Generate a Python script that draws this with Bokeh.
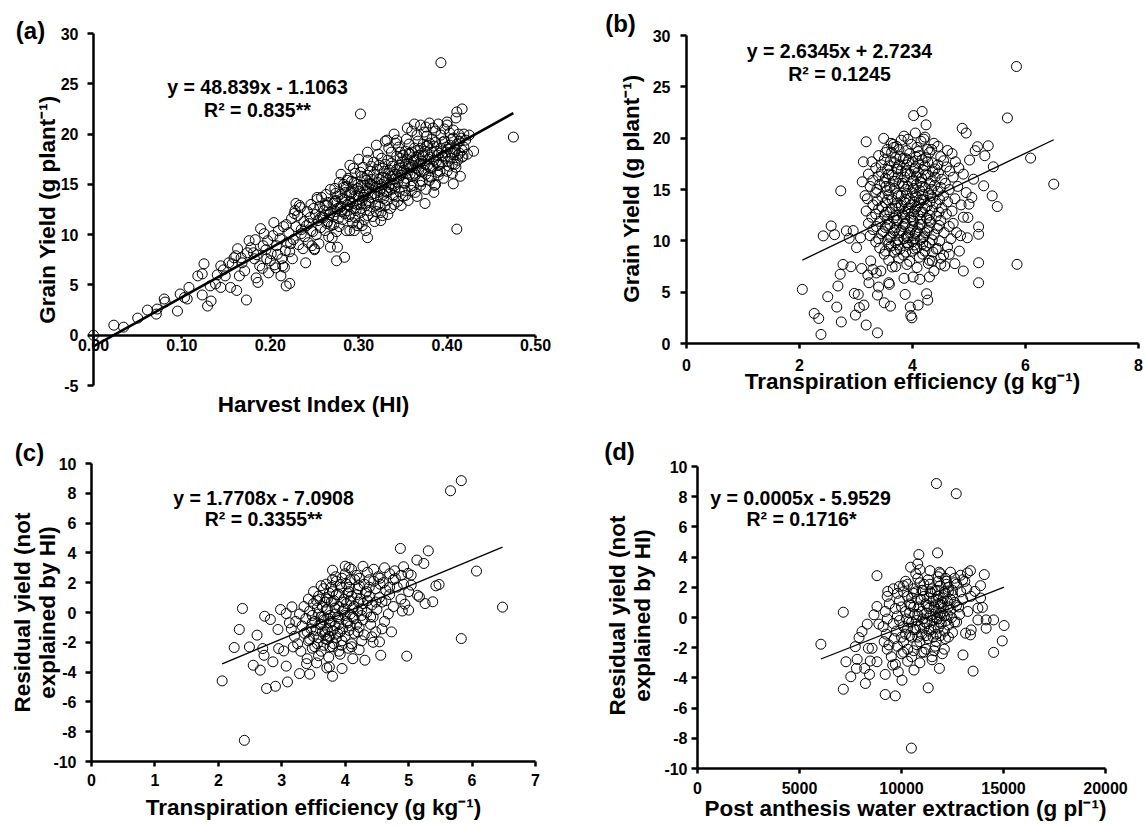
import math
from bokeh.plotting import figure
from bokeh.models import LinearAxis, FixedTicker, NumeralTickFormatter, Range1d, Label
from bokeh.layouts import column, row
from bokeh.embed import file_html
from bokeh.resources import INLINE

FONT = "Liberation Sans"

# ---------------- data ----------------
# (a) Harvest index vs grain yield
a_xticks = [0, 0.1, 0.2, 0.3, 0.4, 0.5]
a_yticks = [-5, 0, 5, 10, 15, 20, 25, 30]
a_fit = (48.839, -1.1063)
a_outer = [(0.000,0.0),(0.023,1.0),(0.034,0.8),(0.050,1.7),(0.061,2.5),(0.071,2.1),(0.072,2.6),(0.080,3.6),
 (0.081,3.3),(0.095,2.4),(0.098,4.1),(0.103,3.75),(0.106,3.6),(0.108,4.75),(0.118,5.9),(0.123,6.1),(0.125,7.1),
 (0.123,4.0),(0.129,2.9),(0.133,3.4),(0.132,4.9),(0.138,5.1),(0.144,4.75),(0.144,6.9),(0.149,5.9),(0.153,7.2),
 (0.155,4.75),(0.159,7.7),(0.162,4.45),(0.163,8.6),(0.165,5.9),(0.167,7.7),(0.173,3.5),(0.174,8.2),(0.176,9.4),
 (0.182,7.6),(0.184,5.7),(0.186,5.25),(0.189,10.6),(0.193,10.1),(0.191,6.65),(0.197,9.4),(0.200,7.4),(0.204,11.2),
 (0.208,8.05),(0.212,5.9),(0.216,6.75),(0.218,4.9),(0.222,5.15),(0.223,9.1),(0.227,12.1),(0.229,13.1),(0.235,10.1),
 (0.240,7.2),(0.246,10.4),(0.250,8.6),(0.253,13.7),(0.257,11.7),(0.268,8.75),(0.274,13.4),(0.275,7.4),(0.276,8.75),
 (0.284,7.75),(0.287,15.4),(0.295,10.4),(0.302,22.0),(0.308,10.4),(0.310,9.7),(0.310,17.4),(0.325,11.4),(0.332,19.4),
 (0.343,19.4),(0.363,21.0),(0.375,13.1),(0.376,20.7),(0.385,14.2),(0.387,15.0),(0.393,27.1),(0.400,21.2),(0.406,17.0),
 (0.407,15.05),(0.411,10.55),(0.411,22.2),(0.417,22.5),(0.417,17.7),(0.430,18.3),(0.475,19.7),
 (0.140,6.0),(0.147,6.5),(0.157,7.1),(0.161,7.9),(0.168,7.2),(0.171,6.4),(0.178,8.7),(0.181,8.2),(0.185,8.0),
 (0.188,6.9),(0.192,8.9),(0.195,8.5),(0.198,6.2),(0.183,9.5),(0.196,7.6)]
a_core = [(0.201,8.1),(0.203,9.9),(0.205,7.0),(0.207,8.9),(0.209,10.4),(0.206,6.7),
 (0.211,9.6),(0.213,7.6),(0.215,10.8),(0.217,8.4),(0.219,9.2),(0.214,6.9),(0.218,11.0),
 (0.221,10.2),(0.222,8.3),(0.224,11.6),(0.226,9.5),(0.228,12.4),(0.225,7.6),(0.229,10.8),
 (0.231,11.9),(0.232,9.0),(0.234,12.7),(0.235,10.5),(0.237,8.6),(0.238,11.3),(0.233,12.9),(0.239,9.8),
 (0.241,10.9),(0.242,12.3),(0.243,9.2),(0.245,11.7),(0.246,13.0),(0.247,8.9),(0.248,10.3),(0.249,12.6),(0.244,11.1),
 (0.251,12.0),(0.252,10.0),(0.253,13.5),(0.254,11.4),(0.255,9.1),(0.256,12.8),(0.257,10.7),(0.258,13.7),(0.259,11.8),(0.250,8.5),
 (0.261,12.4),(0.262,10.4),(0.263,14.0),(0.264,11.1),(0.265,13.2),(0.266,9.8),(0.267,12.0),(0.268,14.5),(0.269,10.9),(0.260,11.7),(0.264,12.9),
 (0.271,13.1),(0.272,11.0),(0.273,14.6),(0.274,12.3),(0.275,10.3),(0.276,13.8),(0.277,11.6),(0.278,15.2),(0.279,12.7),(0.270,9.7),(0.274,14.1),(0.278,10.8),
 (0.281,13.6),(0.282,11.5),(0.283,15.0),(0.284,12.1),(0.285,14.2),(0.286,10.4),(0.287,13.0),(0.288,15.6),(0.289,11.8),(0.280,12.8),(0.283,14.7),(0.287,12.4),(0.289,14.0),
 (0.291,13.3),(0.292,15.3),(0.293,11.2),(0.294,14.5),(0.295,12.6),(0.296,16.1),(0.297,13.9),(0.298,10.9),(0.299,15.0),(0.290,12.0),(0.292,14.1),(0.294,16.6),(0.296,11.7),(0.298,13.0),
 (0.301,14.3),(0.302,12.2),(0.303,15.8),(0.304,13.4),(0.305,16.7),(0.306,11.5),(0.307,14.9),(0.308,12.9),(0.309,15.4),(0.300,13.8),(0.302,16.2),(0.304,10.9),(0.306,14.0),(0.308,13.1),(0.303,12.6),
 (0.311,14.6),(0.312,12.4),(0.313,16.3),(0.314,13.7),(0.315,15.5),(0.316,11.8),(0.317,17.2),(0.318,14.1),(0.319,12.9),(0.310,15.9),(0.312,13.2),(0.314,16.8),(0.316,14.9),(0.318,11.3),(0.313,15.0),
 (0.321,15.2),(0.322,13.0),(0.323,16.9),(0.324,14.3),(0.325,12.2),(0.326,17.6),(0.327,15.7),(0.328,13.6),(0.329,16.3),(0.320,14.8),(0.322,18.0),(0.324,12.8),(0.326,15.0),(0.328,14.0),(0.321,16.5),(0.327,11.9),
 (0.331,15.6),(0.332,13.4),(0.333,17.4),(0.334,14.7),(0.335,16.4),(0.336,12.6),(0.337,18.2),(0.338,15.1),(0.339,13.9),(0.330,17.0),(0.332,14.2),(0.334,18.6),(0.336,15.8),(0.338,16.8),(0.333,12.0),(0.337,14.5),
 (0.341,16.0),(0.342,13.8),(0.343,17.8),(0.344,15.2),(0.345,18.7),(0.346,14.3),(0.347,16.6),(0.348,12.9),(0.349,17.2),(0.340,15.5),(0.342,19.1),(0.344,13.3),(0.346,16.9),(0.348,15.9),(0.341,14.6),(0.347,18.2),
 (0.351,16.4),(0.352,14.4),(0.353,18.3),(0.354,15.6),(0.355,17.5),(0.356,13.4),(0.357,19.0),(0.358,16.0),(0.359,14.8),(0.350,17.9),(0.352,15.1),(0.354,19.5),(0.356,16.8),(0.358,18.0),(0.353,13.9),(0.357,17.0),
 (0.361,16.9),(0.362,14.9),(0.363,18.6),(0.364,15.9),(0.365,17.7),(0.366,13.8),(0.367,19.3),(0.368,16.4),(0.369,15.3),(0.360,18.2),(0.362,17.3),(0.364,14.2),(0.366,19.9),(0.368,17.9),(0.363,16.1),
 (0.371,17.3),(0.372,15.3),(0.373,19.0),(0.374,16.4),(0.375,18.3),(0.376,14.5),(0.377,19.8),(0.378,16.9),(0.379,15.8),(0.370,18.6),(0.372,17.8),(0.374,20.2),(0.376,16.0),(0.378,18.9),
 (0.381,17.7),(0.382,15.7),(0.383,19.5),(0.384,16.8),(0.385,18.8),(0.386,14.9),(0.387,20.3),(0.388,17.3),(0.389,16.2),(0.380,19.1),(0.384,20.6),(0.388,18.3),
 (0.391,18.1),(0.392,16.3),(0.393,19.9),(0.394,17.2),(0.395,19.2),(0.396,15.6),(0.397,20.5),(0.398,17.8),(0.399,18.7),(0.390,16.9),
 (0.401,18.5),(0.402,16.8),(0.403,20.1),(0.404,17.6),(0.405,19.5),(0.406,16.1),(0.407,20.4),(0.408,18.2),(0.409,17.0),
 (0.411,19.0),(0.412,17.4),(0.413,20.0),(0.414,18.1),(0.416,19.6),(0.418,17.8),(0.419,18.7),
 (0.421,19.4),(0.423,18.0),(0.425,19.9)]
a_dense = [(0.262,12.9),(0.265,11.3),(0.268,12.2),(0.271,11.8),(0.273,13.3),(0.276,12.6),(0.279,14.0),(0.281,12.3),
 (0.284,13.5),(0.286,14.8),(0.288,12.9),(0.291,14.2),(0.293,13.1),(0.295,15.2),(0.297,12.4),(0.299,14.6),(0.301,13.0),
 (0.303,14.9),(0.305,13.7),(0.307,15.6),(0.309,14.3),(0.311,13.4),(0.313,15.1),(0.315,14.0),(0.317,16.0),(0.319,14.7),
 (0.321,13.8),(0.323,15.5),(0.325,14.6),(0.327,16.6),(0.329,15.2),(0.331,14.3),(0.333,16.1),(0.335,15.0),(0.337,17.1),
 (0.339,15.8),(0.341,14.9),(0.343,16.5),(0.345,15.6),(0.347,17.6),(0.349,16.2),(0.351,15.2),(0.353,17.0),(0.355,16.1),
 (0.357,18.1),(0.359,16.7),(0.361,15.8),(0.363,17.4),(0.365,16.6),(0.367,18.4),(0.369,17.1),(0.371,16.3),(0.373,17.9),
 (0.375,17.0),(0.377,18.8),(0.379,17.5),(0.381,16.6),(0.383,18.2),(0.385,17.4),(0.387,19.2),(0.389,17.9),(0.391,17.0),
 (0.393,18.6),(0.395,17.8),(0.397,19.3),(0.399,18.2),(0.401,17.3),(0.403,18.9),(0.405,18.1),(0.407,19.6),(0.409,18.5),
 (0.412,17.9),(0.414,19.3),(0.417,18.4),(0.419,20.0),
 (0.280,16.0),(0.290,16.9),(0.300,17.5),(0.310,18.2),(0.320,18.9),(0.330,19.3),(0.340,20.0),(0.355,20.6),(0.360,20.3),
 (0.370,20.9),(0.380,21.1),(0.390,21.0),(0.400,20.9),(0.410,21.6),
 (0.290,10.4),(0.300,11.1),(0.310,11.9),(0.320,12.3),(0.330,12.9),(0.340,13.0),(0.350,13.8),(0.360,14.4),(0.370,14.9),
 (0.380,15.4),(0.390,15.9),(0.400,16.3),(0.410,16.7),(0.415,15.8)]

# (b) Transpiration efficiency vs grain yield
b_xticks = [0, 2, 4, 6, 8]
b_yticks = [0, 5, 10, 15, 20, 25, 30]
b_fit = (2.6345, 2.7234)
b_outer = [(2.05,5.27),(2.26,2.93),(2.34,2.44),(2.38,0.88),(2.42,10.48),(2.50,4.56),(2.56,11.45),(2.62,10.6),
 (2.66,3.55),(2.68,5.6),(2.72,6.74),(2.73,14.87),(2.74,2.1),(2.77,7.7),(2.83,10.97),(2.88,10.25),(2.91,7.48),
 (2.95,11.0),(2.97,4.88),(2.99,2.77),(3.01,9.34),(3.04,4.78),(3.06,3.5),(3.08,10.3),(3.10,7.3),(3.11,15.75),
 (3.13,17.7),(3.14,3.74),(3.16,14.4),(3.18,1.8),(3.18,19.65),(3.21,6.67),(3.23,5.92),(3.26,8.04),(3.30,7.22),
 (3.36,6.87),(3.38,1.04),(3.38,4.72),(3.40,5.5),(3.44,7.06),(3.49,19.98),(3.50,3.97),(3.58,5.92),(3.61,3.64),
 (3.59,5.76),(3.64,7.45),(3.67,19.1),(3.85,6.35),(3.87,4.78),(3.92,10.3),(3.96,3.55),(3.97,2.73),(3.99,2.5),
 (4.01,6.48),(4.02,22.2),(4.10,3.74),(4.13,6.25),(4.17,22.6),(4.24,21.3),(4.25,4.85),(4.27,4.23),(4.30,6.48),
 (4.35,8.04),(4.38,7.06),(4.45,9.24),(4.50,7.71),(4.57,7.55),(4.65,8.69),(4.75,7.78),(4.78,10.8),(4.83,9.0),
 (4.88,20.96),(4.90,7.06),(4.95,20.5),(4.97,10.3),(4.98,12.27),(5.00,13.57),(5.01,17.87),(5.05,14.22),(5.08,16.0),
 (5.11,18.78),(5.15,19.17),(5.17,7.87),(5.17,5.92),(5.17,11.36),(5.17,10.64),(5.26,15.36),(5.28,18.29),(5.34,19.26),
 (5.41,14.38),(5.43,17.21),(5.50,13.34),(5.68,21.97),(5.84,26.98),(5.85,7.71),(6.09,18.06),(6.50,15.52)]
b_core = [(3.85,20.2),(4.05,20.5),(4.22,20.1),
 (3.62,19.5),(3.80,19.8),(3.98,19.4),(4.15,19.7),(4.38,19.5),
 (3.55,18.9),(3.72,19.2),(3.90,18.8),(4.08,19.1),(4.27,18.9),(4.45,19.2),(4.62,18.8),
 (3.40,18.3),(3.63,18.6),(3.78,18.2),(3.95,18.5),(4.12,18.3),(4.30,18.6),(4.50,18.2),(4.70,18.5),
 (3.28,17.7),(3.50,17.9),(3.68,17.6),(3.84,18.0),(4.00,17.7),(4.17,17.9),(4.35,17.6),(4.55,17.8),(4.76,17.7),
 (3.35,17.1),(3.58,17.3),(3.74,17.0),(3.90,17.4),(4.05,17.1),(4.22,17.3),(4.40,17.0),(4.60,17.2),(4.82,17.1),
 (3.22,16.5),(3.45,16.7),(3.64,16.4),(3.80,16.8),(3.96,16.5),(4.10,16.7),(4.27,16.4),(4.46,16.6),(4.66,16.8),(4.90,16.5),
 (3.30,15.9),(3.52,16.1),(3.70,15.8),(3.86,16.2),(4.02,15.9),(4.16,16.1),(4.33,15.8),(4.52,16.0),(4.72,16.2),
 (3.25,15.3),(3.42,15.5),(3.60,15.2),(3.76,15.6),(3.92,15.3),(4.07,15.5),(4.22,15.2),(4.39,15.4),(4.58,15.6),(4.80,15.3),
 (3.35,14.7),(3.55,14.9),(3.72,14.6),(3.88,15.0),(4.00,14.7),(4.13,14.9),(4.28,14.6),(4.45,14.8),(4.65,15.0),(4.95,14.7),
 (3.20,14.1),(3.46,14.3),(3.64,14.0),(3.80,14.4),(3.95,14.1),(4.08,14.3),(4.20,14.0),(4.36,14.2),(4.55,14.4),(4.75,14.1),
 (3.30,13.5),(3.52,13.7),(3.70,13.4),(3.85,13.8),(3.98,13.5),(4.12,13.7),(4.26,13.4),(4.42,13.6),(4.62,13.8),(4.86,13.5),
 (3.18,12.9),(3.40,13.1),(3.60,12.8),(3.76,13.2),(3.92,12.9),(4.05,13.1),(4.18,12.8),(4.34,13.0),(4.52,13.2),(4.70,12.9),
 (3.28,12.3),(3.50,12.5),(3.67,12.2),(3.82,12.6),(3.97,12.3),(4.10,12.5),(4.25,12.2),(4.42,12.4),(4.60,12.6),(4.90,12.3),
 (3.22,11.7),(3.42,11.9),(3.60,11.6),(3.74,12.0),(3.88,11.7),(4.02,11.9),(4.16,11.6),(4.32,11.8),(4.50,12.0),(4.72,11.7),
 (3.30,11.1),(3.52,11.3),(3.68,11.0),(3.83,11.4),(3.96,11.1),(4.10,11.3),(4.26,11.0),(4.44,11.2),(4.65,11.4),
 (3.25,10.5),(3.45,10.7),(3.62,10.4),(3.77,10.8),(3.92,10.5),(4.05,10.7),(4.20,10.4),(4.38,10.6),(4.56,10.8),(4.85,10.5),
 (3.35,9.9),(3.55,10.1),(3.70,9.8),(3.85,10.2),(4.00,9.9),(4.14,10.1),(4.30,9.8),(4.48,10.0),(4.68,10.2),
 (3.42,9.3),(3.62,9.5),(3.78,9.2),(3.93,9.6),(4.08,9.3),(4.24,9.5),(4.42,9.2),(4.62,9.4),
 (3.50,8.7),(3.68,8.9),(3.84,8.6),(4.00,9.0),(4.18,8.7),(4.36,8.9),(4.55,8.6),
 (3.58,8.1),(3.76,8.3),(3.95,8.0),(4.12,8.4),(4.30,8.1),(4.50,8.3),
 (3.70,7.5),(3.90,7.7),(4.08,7.4),(4.28,7.8),
 (3.70,18.1),(3.88,18.0),(4.06,18.2),(4.24,18.1),
 (3.56,16.9),(3.72,17.0),(3.88,16.8),(4.03,17.0),(4.19,16.9),(4.36,16.8),
 (3.50,15.7),(3.66,15.8),(3.82,15.6),(3.99,15.8),(4.14,15.7),(4.30,15.6),
 (3.58,14.5),(3.75,14.4),(3.90,14.6),(4.05,14.4),(4.18,14.5),(4.32,14.4),
 (3.46,13.3),(3.64,13.2),(3.80,13.4),(3.94,13.2),(4.08,13.3),(4.22,13.2),
 (3.55,12.1),(3.72,12.0),(3.86,12.2),(4.00,12.0),(4.14,12.1),(4.30,12.0),
 (3.48,10.9),(3.66,10.8),(3.80,11.0),(3.95,10.8),(4.08,10.9),(4.22,10.8),
 (3.58,9.7),(3.74,9.6),(3.90,9.8),(4.04,9.6),(4.18,9.7)]
b_dense = [(3.52,18.6),(3.66,19.4),(3.76,18.9),(3.92,19.9),(4.10,18.7),(4.20,19.9),(4.34,18.9),
 (3.45,17.4),(3.61,17.8),(3.77,17.4),(3.93,17.8),(4.11,17.5),(4.27,17.7),(4.45,17.4),
 (3.40,16.3),(3.58,16.5),(3.74,16.2),(3.91,16.6),(4.07,16.3),(4.23,16.5),(4.40,16.2),
 (3.37,15.0),(3.53,15.3),(3.68,15.1),(3.84,15.3),(4.02,15.1),(4.17,15.3),(4.34,15.0),(4.50,15.2),
 (3.38,13.9),(3.56,14.0),(3.73,13.7),(3.88,14.0),(4.03,13.8),(4.16,14.0),(4.31,13.8),(4.48,14.0),
 (3.35,12.6),(3.54,12.8),(3.71,12.5),(3.87,12.8),(4.02,12.6),(4.15,12.8),(4.30,12.5),(4.47,12.8),
 (3.36,11.4),(3.56,11.5),(3.71,11.3),(3.86,11.6),(4.00,11.4),(4.13,11.6),(4.29,11.3),(4.47,11.5),
 (3.40,10.2),(3.60,10.3),(3.74,10.1),(3.89,10.4),(4.03,10.2),(4.18,10.3),(4.35,10.1),
 (3.52,9.0),(3.72,9.1),(3.88,8.9),(4.04,9.2),(4.22,9.0)]

# (c) Transpiration efficiency vs residual yield
c_xticks = [0, 1, 2, 3, 4, 5, 6, 7]
c_yticks = [-10, -8, -6, -4, -2, 0, 2, 4, 6, 8, 10]
c_fit = (1.7708, -7.0908)
c_outer = [(2.06,-4.59),(2.25,-2.35),(2.33,-1.14),(2.38,0.27),(2.41,-8.58),(2.49,-2.31),(2.55,-3.54),(2.61,-1.52),
 (2.66,-3.87),(2.70,-2.42),(2.73,-0.25),(2.72,-2.87),(2.76,-5.1),(2.82,-0.47),(2.86,-3.31),(2.90,-4.95),(2.94,-1.14),
 (2.95,-2.42),(2.98,0.2),(3.03,-2.58),(3.07,-3.6),(3.09,-4.66),(3.07,-0.07),(3.12,-0.69),(3.16,0.38),(3.18,-2.31),
 (3.28,-4.1),(3.39,-3.43),(3.44,-4.14),(3.55,-3.38),(3.71,-3.72),(3.75,-3.65),(3.80,-4.28),(3.80,2.84),(3.95,-3.76),
 (4.00,3.11),(4.06,3.02),(4.31,-3.2),(4.42,-1.63),(4.54,-1.97),(4.56,-2.87),(4.73,-1.3),(4.87,4.3),(4.97,-2.93),
 (5.13,3.52),(5.24,3.29),(5.31,4.14),(5.26,0.6),(5.38,0.72),(5.43,1.79),(5.48,1.88),(5.66,8.17),(5.83,8.85),
 (5.83,-1.75),(6.07,2.78),(6.48,0.36),(5.00,0.16),(4.94,0.56),(4.99,2.62),(5.04,2.51),(5.14,1.16),(5.17,1.05),
 (5.04,1.84),(4.92,3.07),(4.79,2.28)]
c_core = [(4.10,2.9),(4.28,3.1),(4.45,2.9),(4.62,3.0),(4.78,2.8),
 (3.85,2.4),(4.00,2.6),(4.18,2.5),(4.35,2.7),(4.52,2.4),(4.70,2.6),(4.88,2.5),
 (3.70,1.9),(3.86,2.1),(4.02,1.9),(4.15,2.2),(4.30,1.9),(4.45,2.1),(4.60,2.0),(4.76,2.2),(4.92,1.9),
 (3.50,1.4),(3.66,1.6),(3.80,1.4),(3.94,1.7),(4.06,1.4),(4.20,1.6),(4.34,1.4),(4.48,1.6),(4.64,1.5),(4.82,1.7),(5.00,1.4),
 (3.42,0.9),(3.58,1.1),(3.72,0.9),(3.86,1.2),(3.98,0.9),(4.10,1.1),(4.24,0.9),(4.38,1.1),(4.54,1.0),(4.70,1.2),(4.88,0.9),
 (3.35,0.4),(3.50,0.6),(3.64,0.4),(3.78,0.7),(3.90,0.4),(4.02,0.6),(4.14,0.4),(4.28,0.6),(4.42,0.5),(4.58,0.7),(4.76,0.4),
 (3.28,-0.1),(3.44,0.1),(3.58,-0.1),(3.72,0.2),(3.84,-0.1),(3.96,0.1),(4.08,-0.1),(4.20,0.1),(4.34,0.0),(4.50,0.2),(4.68,-0.1),(4.90,0.1),
 (3.22,-0.6),(3.38,-0.4),(3.52,-0.6),(3.66,-0.3),(3.78,-0.6),(3.90,-0.4),(4.02,-0.6),(4.14,-0.4),(4.28,-0.5),(4.44,-0.3),(4.62,-0.6),
 (3.15,-1.1),(3.32,-0.9),(3.46,-1.1),(3.60,-0.8),(3.72,-1.1),(3.84,-0.9),(3.96,-1.1),(4.08,-0.9),(4.22,-1.0),(4.40,-0.8),(4.58,-1.1),
 (3.20,-1.6),(3.36,-1.4),(3.50,-1.6),(3.64,-1.3),(3.76,-1.6),(3.88,-1.4),(4.00,-1.6),(4.14,-1.4),(4.30,-1.5),(4.48,-1.3),
 (3.25,-2.1),(3.42,-1.9),(3.56,-2.1),(3.70,-1.8),(3.82,-2.1),(3.95,-1.9),(4.10,-2.1),(4.26,-1.9),(4.44,-2.0),
 (3.30,-2.6),(3.48,-2.4),(3.62,-2.6),(3.76,-2.3),(3.90,-2.6),(4.05,-2.4),(4.22,-2.5),
 (3.40,-3.1),(3.58,-2.9),(3.74,-3.0),(3.92,-2.8),(4.12,-3.1),
 (3.75,1.3),(3.90,1.2),(4.04,1.3),(4.18,1.2),(4.32,1.3),
 (3.56,0.3),(3.70,0.2),(3.84,0.3),(3.98,0.2),(4.12,0.3),(4.26,0.2),
 (3.48,-0.7),(3.62,-0.8),(3.76,-0.7),(3.90,-0.8),(4.04,-0.7),(4.18,-0.8),
 (3.44,-1.8),(3.58,-1.7),(3.72,-1.8),(3.86,-1.7)]
c_dense = [(3.80,2.2),(3.95,2.3),(4.08,2.2),(4.22,2.3),(4.38,2.2),(4.55,2.3),
 (3.62,1.8),(3.78,1.7),(3.92,1.9),(4.06,1.7),(4.22,1.8),(4.38,1.7),(4.55,1.9),(4.70,1.7),
 (3.55,0.8),(3.68,0.7),(3.82,0.8),(3.95,0.7),(4.08,0.8),(4.21,0.7),(4.35,0.8),(4.48,0.7),(4.64,0.8),
 (3.48,-0.2),(3.62,-0.3),(3.76,-0.2),(3.88,-0.3),(4.00,-0.2),(4.12,-0.3),(4.26,-0.2),(4.40,-0.3),
 (3.40,-1.3),(3.54,-1.2),(3.68,-1.3),(3.80,-1.2),(3.92,-1.3),(4.06,-1.2),(4.20,-1.3),
 (3.52,-2.3),(3.66,-2.2),(3.80,-2.3),(3.94,-2.2),(4.10,-2.3),
 (3.60,0.9),(3.70,1.0),(3.66,-0.5),(3.74,-0.4),(3.68,-1.5),(3.74,-1.6)]

# (d) Post anthesis water extraction vs residual yield
d_xticks = [0, 5000, 10000, 15000, 20000]
d_yticks = [-10, -8, -6, -4, -2, 0, 2, 4, 6, 8, 10]
d_fit = (0.00053, -5.9529)
d_outer = [(6048,-1.77),(7148,0.35),(7148,-4.75),(7277,-2.93),(7515,-3.92),(7735,-1.93),(7790,-3.37),(7826,-2.77),
 (7918,-1.33),(8065,-0.93),(8193,-3.37),(8230,-4.37),(8321,-0.44),(8376,-2.04),(8431,-3.77),(8468,-2.88),(8560,-2.04),
 (8651,0.18),(8798,2.77),(8798,0.73),(8890,-0.44),(8798,-2.93),(9201,-5.1),(9201,-3.77),(9329,1.73),(9384,-1.82),
 (9567,-3.15),(9695,-5.19),(9842,-3.59),(9897,2.06),(10025,-4.15),(10447,3.33),(10484,-8.65),(10612,-3.48),
 (10850,4.17),(10795,3.55),(10905,3.17),(11308,-4.66),(11711,8.87),(11767,4.28),(11859,-3.37),(12683,8.2),
 (13013,-2.48),(13233,2.95),(13379,3.1),(13508,-3.55),(14058,2.84),(14516,-2.31),(14516,-0.16),(14938,-1.55),
 (15029,-0.53),(14150,-0.71),(14150,-0.16),(13746,-0.16),(13874,1.29),(13874,2.11),(13966,0.67),(13746,0.62),
 (13379,-1.15),(13141,-1.04),(13104,2.39),(13416,-0.82),(13600,1.73)]
d_core = [(10700,2.9),(11400,3.1),(11900,2.9),(12400,3.0),(12900,2.8),
 (10200,2.4),(10800,2.6),(11300,2.5),(11800,2.7),(12200,2.4),(12600,2.6),(13000,2.5),
 (9600,1.9),(10100,2.1),(10600,1.9),(11100,2.2),(11500,1.9),(11900,2.1),(12300,2.0),(12700,2.2),(13200,1.9),
 (9300,1.4),(9800,1.6),(10300,1.4),(10700,1.7),(11100,1.4),(11450,1.6),(11800,1.4),(12150,1.6),(12500,1.5),(12900,1.7),(13400,1.4),
 (9400,0.9),(9900,1.1),(10400,0.9),(10800,1.2),(11200,0.9),(11550,1.1),(11900,0.9),(12250,1.1),(12600,1.0),(13000,1.2),
 (9200,0.4),(9700,0.6),(10200,0.4),(10600,0.7),(11000,0.4),(11350,0.6),(11700,0.4),(12050,0.6),(12400,0.5),(12800,0.7),(13250,0.4),
 (9300,-0.1),(9800,0.1),(10250,-0.1),(10650,0.2),(11050,-0.1),(11400,0.1),(11750,-0.1),(12100,0.1),(12450,0.0),(12850,0.2),
 (9100,-0.6),(9600,-0.4),(10100,-0.6),(10500,-0.3),(10900,-0.6),(11250,-0.4),(11600,-0.6),(11950,-0.4),(12300,-0.5),(12700,-0.3),
 (9250,-1.1),(9750,-0.9),(10200,-1.1),(10600,-0.8),(11000,-1.1),(11350,-0.9),(11700,-1.1),(12100,-0.9),(12500,-1.0),
 (9150,-1.6),(9650,-1.4),(10100,-1.6),(10500,-1.3),(10900,-1.6),(11300,-1.4),(11700,-1.6),(12150,-1.4),
 (9300,-2.1),(9800,-1.9),(10300,-2.1),(10750,-1.8),(11200,-2.1),(11650,-1.9),(12100,-2.1),
 (9500,-2.6),(10000,-2.4),(10500,-2.6),(11000,-2.3),(11500,-2.6),(12000,-2.4),
 (9700,-3.1),(10300,-2.9),(10900,-3.0),(11500,-2.8),
 (10500,1.3),(10950,1.2),(11350,1.3),(11700,1.2),(12050,1.3),(12400,1.2),
 (10400,0.3),(10800,0.2),(11200,0.3),(11550,0.2),(11900,0.3),(12250,0.2),
 (10300,-0.7),(10700,-0.8),(11100,-0.7),(11450,-0.8),(11800,-0.7),
 (11000,1.8),(11650,1.8),(12300,1.7)]
d_dense = [(10300,2.2),(10900,2.3),(11400,2.2),(11800,2.4),(12200,2.2),(12600,2.3),
 (10100,1.7),(10600,1.6),(11050,1.8),(11400,1.7),(11750,1.8),(12100,1.7),(12500,1.8),
 (10000,0.7),(10450,0.8),(10850,0.7),(11250,0.8),(11600,0.7),(11950,0.8),(12300,0.7),(12700,0.8),
 (9900,-0.2),(10350,-0.3),(10750,-0.2),(11150,-0.3),(11500,-0.2),(11850,-0.3),(12200,-0.2),(12600,-0.3),
 (10000,-1.3),(10400,-1.2),(10800,-1.3),(11200,-1.2),(11550,-1.3),(11900,-1.2),(12300,-1.3),
 (10100,-2.3),(10600,-2.2),(11100,-2.3),(11600,-2.2),
 (11800,0.9),(12000,1.0),(11700,0.0),(11900,0.1),(12150,2.6),(11850,3.0)]

# ---------------- layout geometry (page pixels) ----------------
# fig rect (left, top, w, h); page x of two x values; page y of two y values
GEO = {
    "a": dict(rect=(0, 0, 560, 430), xpx=((0.0, 93), (0.5, 535)), ypx=((30, 33), (-5, 385))),
    "b": dict(rect=(560, 0, 585, 430), xpx=((0, 686), (8, 1138)), ypx=((30, 35), (0, 343))),
    "c": dict(rect=(0, 430, 560, 396), xpx=((0, 91), (7, 535)), ypx=((10, 463), (-10, 761))),
    "d": dict(rect=(560, 430, 585, 396), xpx=((0, 697), (20000, 1105)), ypx=((10, 466), (-10, 768))),
}


def mapper(p0, p1):
    (v0, q0), (v1, q1) = p0, p1
    return lambda q: v0 + (q - q0) * (v1 - v0) / (q1 - q0)


def style_axis(ax, tick_out, label_standoff):
    ax.axis_line_width = 2.5
    ax.axis_line_color = "black"
    ax.major_tick_line_width = 2.5
    ax.major_tick_line_color = "black"
    ax.major_tick_out = tick_out
    ax.major_tick_in = 0
    ax.minor_tick_line_color = None
    ax.major_label_text_font = FONT
    ax.major_label_text_font_style = "bold"
    ax.major_label_text_font_size = "16px"
    ax.major_label_text_color = "black"
    ax.major_label_standoff = label_standoff


def panel(key, pts, fit, xticks, yticks, xfmt, x_at, texts, fit_w, xtick_out, xls, yls):
    g = GEO[key]
    L, T, W, H = g["rect"]
    fx = mapper(*g["xpx"])
    fy = mapper(*g["ypx"])
    p = figure(width=W, height=H, x_range=Range1d(fx(L), fx(L + W)), y_range=Range1d(fy(T + H), fy(T)),
               x_axis_type=None, y_axis_type=None, output_backend="svg", toolbar_location=None,
               min_border=0)
    p.outline_line_color = None
    p.background_fill_color = "white"
    p.border_fill_color = "white"

    xs = [q[0] for q in pts]
    ys = [q[1] for q in pts]
    p.scatter(xs, ys, marker="circle", size=10, fill_color=None, line_color="black",
              line_width=1.0)
    lx = [min(xs), max(xs)]
    ly = [fit[0] * v + fit[1] for v in lx]
    p.line(lx, ly, line_color="black", line_width=fit_w)

    xa = LinearAxis(fixed_location=x_at, bounds=(xticks[0], xticks[-1]),
                    ticker=FixedTicker(ticks=xticks), formatter=xfmt)
    style_axis(xa, xtick_out, xls)
    p.add_layout(xa, "below")
    ya = LinearAxis(fixed_location=xticks[0], bounds=(yticks[0], yticks[-1]),
                    ticker=FixedTicker(ticks=yticks), formatter=NumeralTickFormatter(format="0"))
    style_axis(ya, 6, yls)
    p.add_layout(ya, "left")

    for txt, X, Y, size, rot in texts:
        p.add_layout(Label(x=fx(X), y=fy(Y), text=txt, text_align="center", text_baseline="middle",
                           angle=(math.pi / 2 if rot else 0), text_font=FONT, text_font_style="bold",
                           text_font_size=size, text_color="black"))
    return p


GY = "Grain Yield (g plant\u207b\u00b9)"
TE = "Transpiration efficiency (g kg\u207b\u00b9)"
R1 = "Residual yield (not"
R2 = "explained by HI)"

pa = panel("a", a_outer + a_core + a_dense, a_fit, a_xticks, a_yticks, NumeralTickFormatter(format="0.00"), 0,
           [("(a)", 30, 30, "24px", False), ("y = 48.839x - 1.1063", 257, 86, "19.5px", False),
            ("R\u00b2 = 0.835**", 257, 109, "19.5px", False),
            ("Harvest Index (HI)", 313, 404, "22.5px", False), (GY, 47, 209, "22.5px", True)],
           2.6, 3, 1, 9)
pb = panel("b", b_outer + b_core + b_dense, b_fit, b_xticks, b_yticks, NumeralTickFormatter(format="0"), 0,
           [("(b)", 620, 23, "24px", False), ("y = 2.6345x + 2.7234", 839, 50, "19.5px", False),
            ("R\u00b2 = 0.1245", 839, 73, "19.5px", False),
            (TE, 912, 381, "22.5px", False), (GY, 631, 188, "22.5px", True)],
           1.3, 5, 10, 10)
pc = panel("c", c_outer + c_core + c_dense, c_fit, c_xticks, c_yticks, NumeralTickFormatter(format="0"), -10,
           [("(c)", 29, 452, "24px", False), ("y = 1.7708x - 7.0908", 263, 497, "19.5px", False),
            ("R\u00b2 = 0.3355**", 263, 518, "19.5px", False),
            (TE, 313, 807, "22.5px", False), (R1, 22, 612, "22.5px", True), (R2, 47, 612, "22.5px", True)],
           1.3, 5, 7, 9)
pd_ = panel("d", d_outer + d_core + d_dense, d_fit, d_xticks, d_yticks, NumeralTickFormatter(format="0"), -10,
            [("(d)", 619, 451, "24px", False), ("y = 0.0005x - 5.9529", 800, 497, "19.5px", False),
             ("R\u00b2 = 0.1716*", 801, 518, "19.5px", False),
             ("Post anthesis water extraction (g pl\u207b\u00b9)", 905, 808, "22.5px", False),
             (R1, 617, 615, "22.5px", True), (R2, 642, 615, "22.5px", True)],
            1.3, 5, 8, 4)

layout = column(row(pa, pb), row(pc, pd_))
open("out.html", "w").write(file_html(layout, INLINE, title="chart"))
